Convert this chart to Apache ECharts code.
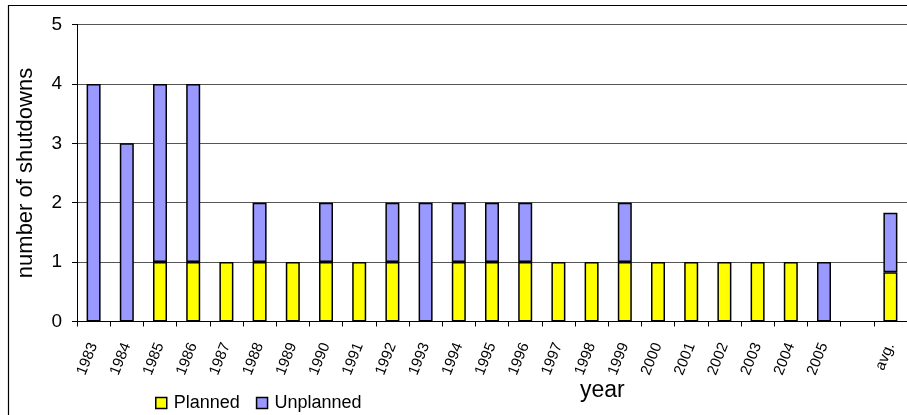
<!DOCTYPE html>
<html><head><meta charset="utf-8">
<script src="https://cdn.jsdelivr.net/npm/echarts@6/dist/echarts.min.js"></script>
<style>html,body{margin:0;padding:0;background:#fff}#c{width:907px;height:415px}</style>
</head><body><div id="c"></div>
<script>
const categories = ['1983','1984','1985','1986','1987','1988','1989','1990','1991','1992','1993','1994','1995','1996','1997','1998','1999','2000','2001','2002','2003','2004','2005','','avg.'];
const planned   = [0,0,1,1,1,1,1,1,1,1,0,1,1,1,1,1,1,1,1,1,1,1,0,null,0.83];
const unplanned = [4,3,3,3,0,1,0,1,0,1,2,1,1,1,0,0,1,0,0,0,0,0,1,null,1.0];
const yTicks = [0,1,2,3,4,5];

// zero-height segments are not drawn (no outline at the baseline)
const toBar = arr => arr.map(v => (v === null || v === 0) ? '-' : v);

const chart = echarts.init(document.getElementById('c'), null, {renderer:'canvas'});
const font = 'Arial, "Liberation Sans", sans-serif';
chart.setOption({
  animation:false,
  backgroundColor:'#fff',
  grid:{left:77,right:0,top:24.5,bottom:93.5,containLabel:false},
  legend:{
    data:['Planned','Unplanned'],
    left:150, top:389,
    itemWidth:11, itemHeight:11, itemGap:16,
    icon:'rect',
    textStyle:{fontFamily:font,fontSize:18,color:'#000',padding:[0,0,0,2]},
    itemStyle:{borderColor:'#000',borderWidth:1.5}
  },
  xAxis:{
    type:'category', data:categories,
    boundaryGap:true,
    axisLine:{lineStyle:{color:'#000',width:1}},
    axisTick:{show:true,alignWithLabel:false,length:5,lineStyle:{color:'#000'}},
    axisLabel:{rotate:68,interval:0,fontFamily:font,fontSize:15,color:'#000',margin:22}
  },
  yAxis:{
    type:'value', min:yTicks[0], max:yTicks[yTicks.length-1], interval:1,
    name:'number of shutdowns', nameLocation:'middle', nameGap:40,
    nameTextStyle:{fontFamily:font,fontSize:22,color:'#000'},
    axisLine:{show:true,lineStyle:{color:'#000',width:1}},
    axisTick:{show:true,inside:false,length:5,lineStyle:{color:'#000'}},
    axisLabel:{fontFamily:font,fontSize:19,color:'#000',margin:15},
    splitLine:{show:true,lineStyle:{color:'#555',width:1}}
  },
  series:[
    {name:'Planned',type:'bar',stack:'s',data:toBar(planned),barWidth:14,
     itemStyle:{color:'#FFFF00',borderColor:'#000',borderWidth:1.5}},
    {name:'Unplanned',type:'bar',stack:'s',data:toBar(unplanned),barWidth:14,
     itemStyle:{color:'#9999FF',borderColor:'#000',borderWidth:1.5}}
  ],
  graphic:[
    {type:'rect',left:6,top:3,shape:{width:1000,height:500},style:{fill:null,stroke:'#000',lineWidth:1.2},silent:true,z:100},
    {type:'text',left:580,top:379,style:{text:'year',font:'23px '+font,fill:'#000'}}
  ]
});
</script></body></html>
